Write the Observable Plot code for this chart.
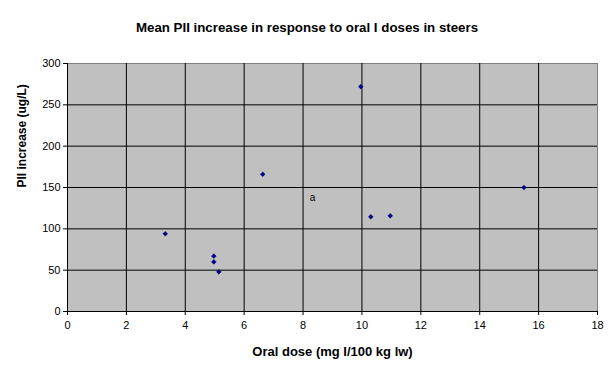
<!DOCTYPE html>
<html>
<head>
<meta charset="utf-8">
<script src="https://cdn.jsdelivr.net/npm/d3@7"></script>
<script src="https://cdn.jsdelivr.net/npm/@observablehq/plot@0.6"></script>
<style>
  html, body { margin: 0; padding: 0; background: #fff; }
  #title { height: 40px; box-sizing: border-box; padding-top: 20px; line-height: 14px; width: 614px; text-align: center;
    font: bold 13.3px "Liberation Sans", Arial, sans-serif; color: #000; }
  #chart svg { display: block; }
</style>
</head>
<body>
<div id="title">Mean PII increase in response to oral I doses in steers</div>
<div id="chart"></div>
<script>
const xLabel = "Oral dose (mg I/100 kg lw)";
const yLabel = "PII increase (ug/L)";
const doses = [3.32, 4.97, 4.97, 5.14, 6.63, 9.96, 10.3, 10.96, 15.5];
const increases = [94, 67, 60, 48, 166, 272, 114.5, 115.7, 150];
const xTicks = [0, 2, 4, 6, 8, 10, 12, 14, 16, 18];
const yTicks = [0, 50, 100, 150, 200, 250, 300];
const noteText = ["a"];
const noteX = [8.32];
const noteY = [137.5];

const points = doses.map((d, i) => ({x: d, y: increases[i]}));
const notes = noteText.map((t, i) => ({t, x: noteX[i], y: noteY[i]}));

const chart = Plot.plot({
  width: 614,
  height: 337,
  marginLeft: 67,
  marginRight: 17,
  marginTop: 23,
  marginBottom: 66,
  style: {fontFamily: '"Liberation Sans", Arial, sans-serif', fontSize: "11px", color: "#000", background: "#fff"},
  x: {domain: [0, 18], ticks: xTicks},
  y: {domain: [0, 300], ticks: yTicks},
  marks: [
    Plot.frame({fill: "#C0C0C0", stroke: "#808080", strokeWidth: 1}),
    Plot.gridX(xTicks.filter(d => d > 0 && d < 18), {stroke: "#000", strokeOpacity: 1, strokeWidth: 1}),
    Plot.gridY(yTicks.filter(d => d > 0 && d < 300), {stroke: "#000", strokeOpacity: 1, strokeWidth: 1}),
    Plot.ruleX([0], {stroke: "#000"}),
    Plot.ruleY([0], {stroke: "#000"}),
    Plot.axisX({ticks: xTicks, tickSize: 4, tickPadding: 6, label: null}),
    Plot.axisY({ticks: yTicks, tickSize: 4, tickPadding: 3, label: null}),
    Plot.text([xLabel], {frameAnchor: "bottom", dy: 44, fontWeight: "bold", fontSize: 13}),
    Plot.text([yLabel], {frameAnchor: "left", dx: -45, rotate: -90, fontWeight: "bold", fontSize: 12}),
    Plot.dot(points, {x: "x", y: "y", symbol: "diamond2", r: 2.1, fill: "#000080", stroke: "#000080", strokeWidth: 0.6}),
    Plot.text(notes, {x: "x", y: "y", text: "t", fontSize: 10})
  ]
});
document.getElementById("chart").appendChild(chart);
</script>
</body>
</html>
